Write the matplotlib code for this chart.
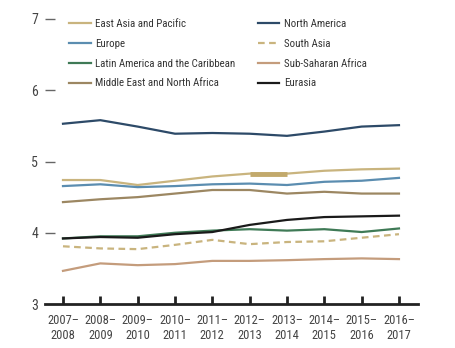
import matplotlib
matplotlib.use("Agg")
import matplotlib.pyplot as plt
from matplotlib import font_manager

periods = ["2007–\n2008", "2008–\n2009", "2009–\n2010", "2010–\n2011", "2011–\n2012",
           "2012–\n2013", "2013–\n2014", "2014–\n2015", "2015–\n2016", "2016–\n2017"]

east_asia = [4.74, 4.74, 4.67, 4.73, 4.79, 4.83, 4.83, 4.87, 4.89, 4.90]
europe = [4.655, 4.68, 4.64, 4.655, 4.68, 4.69, 4.67, 4.715, 4.73, 4.77]
latin_america = [3.92, 3.95, 3.95, 4.00, 4.03, 4.05, 4.03, 4.05, 4.01, 4.06]
mena = [4.43, 4.47, 4.50, 4.55, 4.60, 4.60, 4.55, 4.575, 4.55, 4.55]
north_america = [5.53, 5.58, 5.49, 5.39, 5.40, 5.39, 5.36, 5.42, 5.49, 5.51]
south_asia = [3.81, 3.78, 3.77, 3.83, 3.90, 3.84, 3.87, 3.88, 3.93, 3.98]
sub_saharan = [3.465, 3.57, 3.545, 3.56, 3.605, 3.605, 3.615, 3.63, 3.64, 3.63]
eurasia = [3.92, 3.94, 3.93, 3.98, 4.01, 4.11, 4.18, 4.22, 4.23, 4.24]

names = set(f.name for f in font_manager.fontManager.ttflist)
cond = [n for n in ["Liberation Sans Narrow", "Roboto Condensed", "Open Sans Condensed",
                    "DejaVu Sans Condensed"] if n in names]
plt.rcParams["font.family"] = cond + ["DejaVu Sans"]
plt.rcParams["font.stretch"] = "condensed"

fig = plt.figure(figsize=(4.56, 3.48), dpi=100)
ax = fig.add_axes([45/456, 1-304/348, 373/456, 285/348])

x = list(range(len(periods)))
lw = 1.6
ax.plot(x, east_asia, color="#c9b47e", lw=lw, label="East Asia and Pacific")
ax.plot(x, europe, color="#5b8db0", lw=lw, label="Europe")
ax.plot(x, latin_america, color="#3f7a56", lw=lw, label="Latin America and the Caribbean")
ax.plot(x, mena, color="#9c8762", lw=lw, label="Middle East and North Africa")
ax.plot(x, north_america, color="#2d4a68", lw=lw, label="North America")
ax.plot(x, south_asia, color="#c9b47e", lw=lw, ls=(0, (3, 2)), label="South Asia")
ax.plot(x, sub_saharan, color="#c49c7c", lw=lw, label="Sub-Saharan Africa")
ax.plot(x, eurasia, color="#1a1a1a", lw=lw, label="Eurasia")
# highlighted segment
ax.plot(x[5:7], east_asia[5:7], color="#c2a96c", lw=3.5, solid_capstyle="butt")

ax.set_xlim(-0.482, 9.51)
ax.set_ylim(3, 7)
ax.set_yticks([3, 4, 5, 6, 7])
ax.set_xticks(x)
ax.set_xticklabels(periods, fontsize=9, color="#444444", linespacing=1.2)
for s in ["left", "right", "top"]:
    ax.spines[s].set_visible(False)
ax.spines["bottom"].set_linewidth(2)
ax.spines["bottom"].set_color("#222222")
ax.tick_params(axis="x", direction="in", length=6, width=2, color="#222222", pad=7)
ax.tick_params(axis="y", direction="in", length=7, width=1, color="#666666",
               labelsize=10, labelcolor="#444444", pad=5)
ax.get_yticklines()[0].set_visible(False)

h, l = ax.get_legend_handles_labels()
kw = dict(loc="upper left", frameon=False, fontsize=7.8, handlelength=1.95,
          handletextpad=0.45, labelspacing=0.9, labelcolor="#333333", borderaxespad=0)
leg1 = ax.legend(h[:4], l[:4], bbox_to_anchor=(0.054, 1.015), **kw)
ax.add_artist(leg1)
ax.legend(h[4:8], l[4:8], bbox_to_anchor=(0.559, 1.015), **kw)
fig.savefig("out.png", dpi=100)
